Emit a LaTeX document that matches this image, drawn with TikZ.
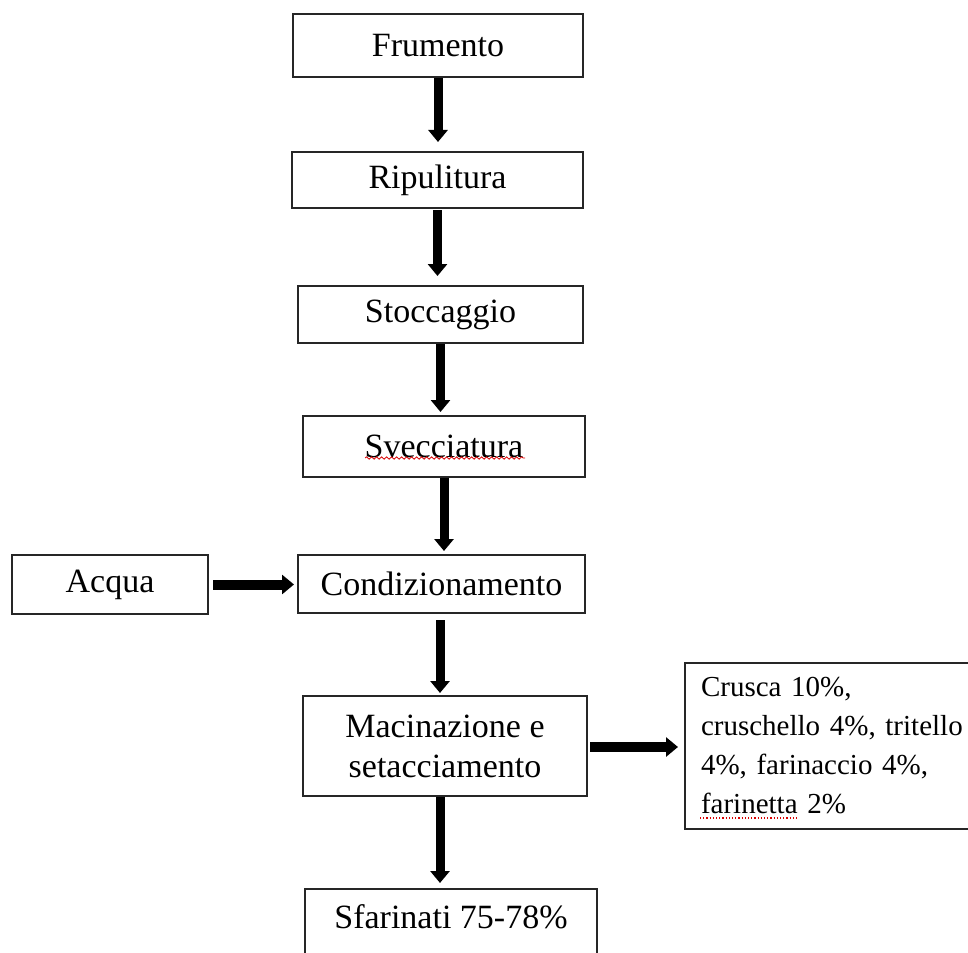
\documentclass[tikz,border=0pt]{standalone}
\usepackage{fontspec}
\setmainfont{Liberation Serif}
\usetikzlibrary{arrows.meta,decorations.pathmorphing,calc}
\begin{document}
\begin{tikzpicture}[x=1pt,y=-1pt,
  box/.style={draw=black!85, line width=2pt, inner sep=0pt,
    font=\fontsize{34}{40}\selectfont, align=center},
  arr/.style={line width=9pt, -{Triangle[width=19pt,length=12pt]}},
  spell/.style={red!85!black, line width=0.8pt},
]
\useasboundingbox (0,0) rectangle (968,952);
\fill[white] (0,0) rectangle (968,952);
\clip (0,0) rectangle (968,952);

\node[box, minimum width=290pt, minimum height=63pt] (fru) at (438,45.5) {Frumento};
\node[box, minimum width=291pt, minimum height=56pt] (rip) at (437.5,180) {Ripulitura};
\node[box, minimum width=285pt, minimum height=57pt] (sto) at (440.5,314.5) {Stoccaggio};
\node[box, minimum width=282pt, minimum height=61pt] (sve) at (444,446.5) {Svecciatura};
\node[box, minimum width=287pt, minimum height=58pt] (con) at (441.5,584) {Condizionamento};
\node[box, minimum width=196pt, minimum height=59pt] (acq) at (110,584.5) {Acqua};
\node[box, minimum width=284pt, minimum height=100pt] (mac) at (445,746) {Macinazione e\\setacciamento};
\node[box, anchor=north west, align=left, text width=274pt, inner xsep=16pt,
      minimum height=166pt, font=\fontsize{29}{39}\selectfont] (res) at (684,662)
      {Crusca 10\%,\\cruschello 4\%, tritello\\4\%, farinaccio 4\%,\\farinetta 2\%};
\node[box, anchor=north, minimum width=292pt, text height=39pt, text depth=40pt] (sfa) at (451,888) {Sfarinati 75-78\%};

\draw[arr, shorten >=9pt] (fru.south) -- (fru.south |- rip.north);
\draw[arr, shorten <=1pt, shorten >=9pt] (rip.south) -- (rip.south |- sto.north);
\draw[arr, shorten >=3pt] (sto.south) -- (sto.south |- sve.north);
\draw[arr, shorten >=3pt] (sve.south) -- (sve.south |- con.north);
\draw[arr, shorten <=6pt, shorten >=2pt] ($(con.south)+(-1.5,0)$) -- ($(con.south |- mac.north)+(-1.5,0)$);
\draw[arr, shorten >=5pt] ($(mac.south)+(-5,0)$) -- ($(mac.south |- sfa.north)+(-5,0)$);
\draw[arr, line width=10pt, shorten <=4pt, shorten >=3pt] (acq.east) -- (acq.east -| con.west);
\draw[arr, line width=10pt, shorten <=2pt, shorten >=6pt] ($(mac.east)+(0,1)$) -- ($(mac.east -| res.west)+(0,1)$);

\draw[spell, decorate, decoration={snake, amplitude=1.2pt, segment length=5pt}]
  ($(sve.center)+(-79,11.5)$) -- ($(sve.center)+(81,11.5)$);
\draw[spell, line width=1.2pt, dotted] (700,818) -- (798,818);
\end{tikzpicture}
\end{document}
